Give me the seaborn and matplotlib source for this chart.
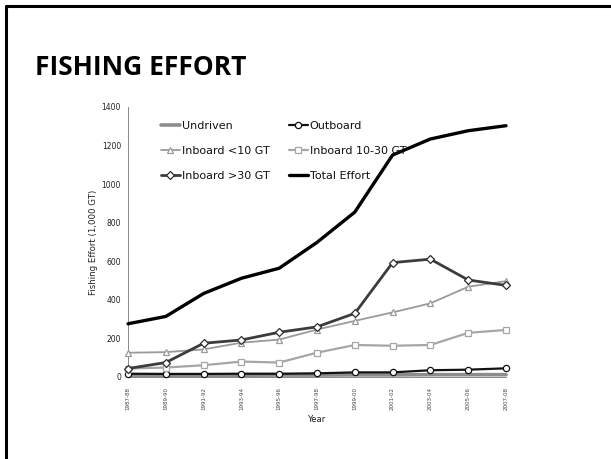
import numpy as np
import pandas as pd
import matplotlib
matplotlib.use("Agg")
import matplotlib.pyplot as plt
import seaborn as sns
from matplotlib.lines import Line2D

years = ["1987-88", "1989-90", "1991-92", "1993-94", "1995-96", "1997-98",
         "1999-00", "2001-02", "2003-04", "2005-06", "2007-08"]
undriven = [8, 8, 9, 9, 10, 10, 11, 11, 12, 12, 12]
outboard = [17, 16, 16, 17, 17, 19, 24, 24, 35, 38, 45]
inboard_lt10 = [126, 129, 143, 178, 194, 246, 291, 335, 382, 468, 497]
inboard_10_30 = [44, 49, 61, 80, 75, 126, 166, 162, 166, 229, 244]
inboard_gt30 = [44, 75, 175, 192, 232, 260, 330, 593, 611, 503, 475]
total_effort = [276, 314, 433, 512, 564, 698, 855, 1151, 1234, 1277, 1303]
yticks = [0, 200, 400, 600, 800, 1000, 1200, 1400]

sns.set_style("white")
plt.rcParams['font.family'] = ['DejaVu Sans']
plt.rcParams['text.color'] = '#111111'

W, H = 611, 459
fig = plt.figure(figsize=(W / 100, H / 100), dpi=100)
ax = fig.add_axes([128 / W, 1 - 377 / H, (506 - 128) / W, (377 - 107) / H])

x = np.arange(len(years))
series = [
    ("Undriven", undriven, dict(color="#8c8c8c", lw=2.6, marker=None)),
    ("Outboard", outboard, dict(color="#111111", lw=1.6, marker="o", ms=4.5, mfc="white", mec="#111111", mew=0.9)),
    ("Inboard <10 GT", inboard_lt10, dict(color="#9a9a9a", lw=1.3, marker="^", ms=5, mfc="white", mec="#9a9a9a", mew=0.9)),
    ("Inboard 10-30 GT", inboard_10_30, dict(color="#a6a6a6", lw=1.6, marker="s", ms=4.2, mfc="white", mec="#a6a6a6", mew=0.9)),
    ("Inboard >30 GT", inboard_gt30, dict(color="#3c3c3c", lw=2.0, marker="D", ms=4.3, mfc="white", mec="#2c2c2c", mew=0.9)),
    ("Total Effort", total_effort, dict(color="#000000", lw=2.4, marker=None)),
]
order_z = {"Undriven": 2, "Outboard": 3, "Inboard <10 GT": 4, "Inboard 10-30 GT": 4,
           "Inboard >30 GT": 5, "Total Effort": 6}
handles = {}
for name, vals, st in series:
    df = pd.DataFrame({"x": x, "y": vals})
    kw = dict(color=st["color"], linewidth=st["lw"], zorder=order_z[name])
    if st["marker"]:
        kw.update(marker=st["marker"], markersize=st["ms"], markerfacecolor=st["mfc"],
                  markeredgecolor=st["mec"], markeredgewidth=st["mew"])
    sns.lineplot(data=df, x="x", y="y", ax=ax, label=name, clip_on=False, **kw)
    handles[name] = ax.get_lines()[-1]

ax.set_xlim(0, len(years) - 1)
ax.set_ylim(0, 1400)
ax.set_yticks(yticks)
ax.set_yticklabels([str(v) for v in yticks], fontsize=5.5, color="#222222")
ax.set_xticks(x)
ax.set_xticklabels(years, rotation=90, fontsize=4, color="#444444")
ax.tick_params(axis="both", which="both", direction="out", length=3, width=0.6,
               color="#888888", pad=2)
ax.tick_params(axis="x", length=4, pad=3)
for s in ["top", "right"]:
    ax.spines[s].set_visible(False)
for s in ["left", "bottom"]:
    ax.spines[s].set_color("#888888")
    ax.spines[s].set_linewidth(0.7)
ax.set_xlabel("Year", fontsize=6.2, color="#222222", labelpad=4)
ax.set_ylabel("Fishing Effort (1,000 GT)", fontsize=6.2, color="#222222", labelpad=3)

leg_order = ["Undriven", "Inboard <10 GT", "Inboard >30 GT",
             "Outboard", "Inboard 10-30 GT", "Total Effort"]
ax.get_legend().remove()
fig.legend([handles[n] for n in leg_order], leg_order, ncol=2, loc="upper left",
           bbox_to_anchor=(161 / W, 1 - 121 / H), frameon=False, fontsize=8,
           handlelength=1.7, handletextpad=0.2, columnspacing=1.7,
           labelspacing=1.36, borderpad=0, borderaxespad=0)

fig.text(35 / W, 1 - 75 / H, "FISHING EFFORT", fontsize=19, fontweight="bold",
         family=["Open Sans", "DejaVu Sans"], va="baseline", ha="left",
         color="black")

# slide frame (left and top edges)
fig.add_artist(Line2D([6 / W, 6 / W], [0, 1 - 6 / H], color="black", lw=2.2,
                      transform=fig.transFigure))
fig.add_artist(Line2D([6 / W, 1], [1 - 6 / H, 1 - 6 / H], color="black", lw=2.2,
                      transform=fig.transFigure))

fig.savefig("out.png", dpi=100)
